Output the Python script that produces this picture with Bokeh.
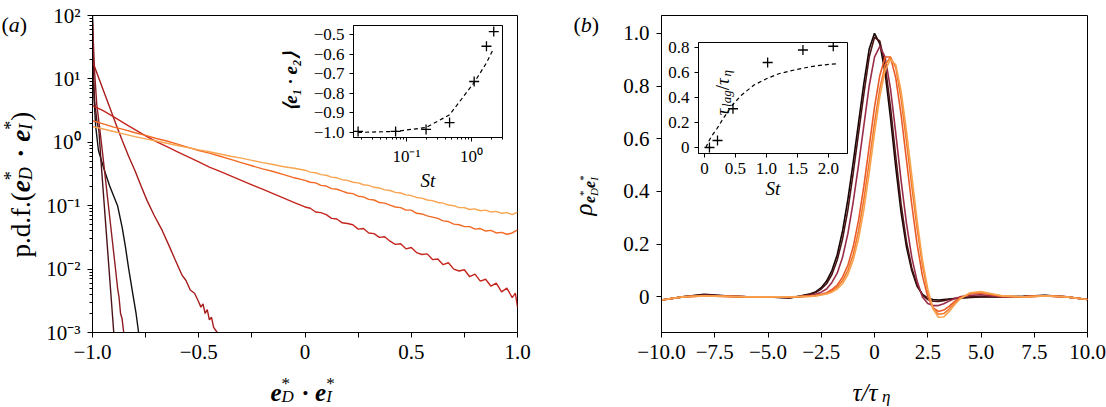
import math
from bokeh.plotting import figure
from bokeh.layouts import row, column
from bokeh.models import Range1d, FixedTicker, Label
from bokeh.embed import file_html
from bokeh.resources import INLINE

SERIF = "Liberation Serif"

# ---------------- Panel (a): p.d.f. of e_D*.e_I*  (x, log10 pdf) ----------------
a_x_black = [-1.0, -0.997, -0.993, -0.985, -0.972, -0.95, -0.92, -0.9, -0.882, -0.86, -0.845, -0.83, -0.81, -0.795, -0.783]
a_lp_black = [2.0, 1.2, 0.7, 0.25, -0.13, -0.38, -0.68, -0.85, -1.0, -1.35, -1.65, -1.99, -2.4, -2.7, -3.0]

a_x_maroon_dk = [-1.0, -0.998, -0.995, -0.99, -0.98, -0.97, -0.96, -0.95, -0.94, -0.93, -0.92, -0.91, -0.9]
a_lp_maroon_dk = [1.95, 1.4, 1.0, 0.65, 0.35, 0.19, -0.3, -0.75, -1.2, -1.65, -2.1, -2.55, -3.0]

a_x_maroon = [-1.0, -0.995, -0.99, -0.98, -0.965, -0.95, -0.935, -0.92, -0.905, -0.89, -0.882, -0.875, -0.868, -0.861, -0.853]
a_lp_maroon = [1.9, 1.5, 1.1, 0.6, 0.19, -0.25, -0.7, -1.15, -1.6, -2.05, -2.3, -2.45, -2.7, -2.78, -3.0]

a_x_red = [-1.0, -0.978, -0.95, -0.92, -0.89, -0.86, -0.83, -0.8, -0.77, -0.743, -0.71, -0.672, -0.64, -0.61,
           -0.578, -0.56, -0.54, -0.52, -0.5, -0.49, -0.48, -0.47, -0.46, -0.45, -0.44, -0.43, -0.413]
a_lp_red = [1.28, 1.08, 0.83, 0.56, 0.29, 0.03, -0.22, -0.45, -0.7, -0.92, -1.15, -1.39, -1.63, -1.86,
            -2.1, -2.18, -2.33, -2.38, -2.52, -2.6, -2.55, -2.7, -2.64, -2.8, -2.76, -2.92, -3.0]

a_x_long = [-1.0, -0.95, -0.9, -0.85, -0.8, -0.75, -0.7, -0.65, -0.6, -0.55, -0.5, -0.45, -0.4, -0.35, -0.3,
            -0.25, -0.2, -0.15, -0.1, -0.05,
            0.0, 0.025, 0.05, 0.075, 0.1, 0.125, 0.15, 0.175, 0.2, 0.225, 0.25, 0.275, 0.3, 0.325, 0.35, 0.375,
            0.4, 0.425, 0.45, 0.475, 0.5, 0.525, 0.55, 0.575, 0.6, 0.625, 0.65, 0.675, 0.7, 0.725, 0.75, 0.775,
            0.8, 0.825, 0.85, 0.875, 0.9, 0.925, 0.95, 0.975, 0.99, 1.0]
a_lp_long = [0.58, 0.5, 0.4, 0.3, 0.2, 0.1, 0.01, -0.07, -0.15, -0.23, -0.31, -0.39, -0.46, -0.53, -0.6,
             -0.67, -0.74, -0.81, -0.88, -0.95,
             -1.02, -1.04, -1.10, -1.11, -1.14, -1.20, -1.21, -1.27, -1.28, -1.30, -1.37, -1.36, -1.43, -1.44, -1.50, -1.49,
             -1.56, -1.61, -1.60, -1.68, -1.66, -1.74, -1.77, -1.76, -1.85, -1.84, -1.93, -1.90, -2.00, -2.03, -2.01, -2.12,
             -2.08, -2.19, -2.16, -2.27, -2.22, -2.36, -2.30, -2.45, -2.38, -2.60]

a_x_orange = [-1.0, -0.95, -0.9, -0.85, -0.8, -0.75, -0.7, -0.65, -0.6, -0.55, -0.5, -0.45, -0.4, -0.35, -0.3,
              -0.25, -0.2, -0.15, -0.1, -0.05,
              0.0, 0.025, 0.05, 0.075, 0.1, 0.125, 0.15, 0.175, 0.2, 0.225, 0.25, 0.275, 0.3, 0.325, 0.35, 0.375,
              0.4, 0.425, 0.45, 0.475, 0.5, 0.525, 0.55, 0.575, 0.6, 0.625, 0.65, 0.675, 0.7, 0.725, 0.75, 0.775,
              0.8, 0.825, 0.85, 0.875, 0.9, 0.925, 0.95, 0.975, 1.0]
a_lp_orange = [0.34, 0.29, 0.24, 0.2, 0.15, 0.11, 0.06, 0.02, -0.03, -0.08, -0.13, -0.17, -0.22, -0.27, -0.32,
               -0.37, -0.42, -0.46, -0.51, -0.56,
               -0.6, -0.63, -0.64, -0.68, -0.69, -0.73, -0.74, -0.77, -0.80, -0.81, -0.85, -0.86, -0.90, -0.91, -0.95, -0.96,
               -0.99, -1.02, -1.03, -1.07, -1.07, -1.12, -1.13, -1.16, -1.18, -1.20, -1.24, -1.25, -1.29, -1.30, -1.33, -1.33,
               -1.37, -1.36, -1.40, -1.39, -1.43, -1.42, -1.45, -1.43, -1.38]

a_x_light = [-1.0, -0.95, -0.9, -0.85, -0.8, -0.75, -0.7, -0.65, -0.6, -0.55, -0.5, -0.45, -0.4, -0.35, -0.3,
             -0.25, -0.2, -0.15, -0.1, -0.05,
             0.0, 0.025, 0.05, 0.075, 0.1, 0.125, 0.15, 0.175, 0.2, 0.225, 0.25, 0.275, 0.3, 0.325, 0.35, 0.375,
             0.4, 0.425, 0.45, 0.475, 0.5, 0.525, 0.55, 0.575, 0.6, 0.625, 0.65, 0.675, 0.7, 0.725, 0.75, 0.775,
             0.8, 0.825, 0.85, 0.875, 0.9, 0.925, 0.95, 0.975, 1.0]
a_lp_light = [0.25, 0.21, 0.17, 0.13, 0.09, 0.055, 0.02, -0.015, -0.05, -0.085, -0.12, -0.15, -0.185, -0.22, -0.25,
              -0.285, -0.32, -0.35, -0.385, -0.41,
              -0.44, -0.47, -0.48, -0.51, -0.52, -0.55, -0.56, -0.59, -0.60, -0.63, -0.64, -0.67, -0.68, -0.71, -0.72, -0.75,
              -0.76, -0.79, -0.80, -0.83, -0.84, -0.87, -0.88, -0.91, -0.92, -0.95, -0.96, -0.99, -1.0, -1.03, -1.03, -1.06,
              -1.05, -1.08, -1.07, -1.10, -1.09, -1.12, -1.11, -1.14, -1.10]

# inset (a): <e1.e2> vs St
ia_St = [0.018, 0.068, 0.2, 0.46, 1.1, 1.7, 2.2]
ia_mean = [-0.995, -0.995, -0.985, -0.95, -0.74, -0.56, -0.485]
ia_fit = [-1.0, -0.995, -0.975, -0.91, -0.745, -0.645, -0.57]

# ---------------- Panel (b): correlation vs tau/tau_eta ----------------
tau = [-10, -9, -8, -7, -6, -5, -4, -3.5, -3, -2.75, -2.5, -2.25, -2, -1.75, -1.5, -1.25, -1, -0.75, -0.5, -0.25,
       0, 0.25, 0.5, 0.75, 1, 1.25, 1.5, 1.75, 2, 2.25, 2.5, 2.75, 3, 3.25, 3.5, 3.75, 4, 4.5, 5, 5.5, 6, 7, 8, 9, 10]
rho_1 = [-0.012, 0.0, 0.01, 0.004, 0.0, 0.0, -0.004, 0.003, 0.012, 0.02, 0.035, 0.06, 0.1, 0.16, 0.25, 0.37, 0.51, 0.66, 0.81, 0.94,
         1.0, 0.96, 0.85, 0.68, 0.49, 0.32, 0.19, 0.1, 0.04, 0.01, -0.005, -0.01, -0.012, -0.01, -0.008, -0.006, -0.005, -0.002, 0.0, 0.0, 0.0, 0.002, 0.006, 0.0, -0.01]
rho_2 = [-0.012, 0.0, 0.008, 0.003, 0.0, 0.0, -0.003, 0.002, 0.01, 0.017, 0.03, 0.05, 0.085, 0.14, 0.22, 0.33, 0.47, 0.62, 0.77, 0.91,
         0.985, 0.97, 0.88, 0.72, 0.53, 0.35, 0.21, 0.11, 0.045, 0.008, -0.01, -0.016, -0.017, -0.014, -0.01, -0.006, -0.004, 0.0, 0.002, 0.001, 0.0, 0.002, 0.005, 0.0, -0.01]
rho_3 = [-0.012, 0.0, 0.006, 0.003, 0.0, 0.0, -0.002, 0.001, 0.006, 0.01, 0.018, 0.03, 0.055, 0.09, 0.15, 0.24, 0.36, 0.5, 0.65, 0.8,
         0.91, 0.95, 0.91, 0.79, 0.62, 0.44, 0.28, 0.15, 0.06, 0.0, -0.025, -0.033, -0.033, -0.026, -0.016, -0.007, 0.0, 0.006, 0.008, 0.004, 0.0, 0.001, 0.004, 0.0, -0.01]
rho_4 = [-0.012, 0.0, 0.004, 0.002, 0.0, 0.0, 0.0, 0.001, 0.004, 0.006, 0.01, 0.016, 0.028, 0.045, 0.075, 0.12, 0.19, 0.29, 0.42, 0.57,
         0.72, 0.84, 0.91, 0.91, 0.83, 0.69, 0.52, 0.35, 0.2, 0.08, 0.0, -0.042, -0.055, -0.05, -0.036, -0.018, -0.004, 0.012, 0.015, 0.008, 0.002, 0.0, 0.004, 0.0, -0.01]
rho_5 = [-0.012, 0.0, 0.004, 0.002, 0.0, 0.0, 0.0, 0.001, 0.003, 0.005, 0.008, 0.013, 0.022, 0.037, 0.062, 0.1, 0.16, 0.25, 0.37, 0.51,
         0.66, 0.79, 0.88, 0.91, 0.87, 0.75, 0.59, 0.42, 0.26, 0.12, 0.02, -0.045, -0.066, -0.063, -0.046, -0.025, -0.006, 0.014, 0.018, 0.01, 0.003, 0.0, 0.004, 0.0, -0.01]
rho_6 = [-0.012, 0.0, 0.004, 0.002, 0.0, 0.0, 0.0, 0.001, 0.002, 0.004, 0.007, 0.011, 0.018, 0.03, 0.05, 0.085, 0.14, 0.22, 0.33, 0.47,
         0.62, 0.76, 0.86, 0.9, 0.88, 0.78, 0.63, 0.46, 0.29, 0.14, 0.03, -0.045, -0.077, -0.076, -0.056, -0.031, -0.009, 0.016, 0.02, 0.012, 0.004, 0.0, 0.004, 0.0, -0.01]

# inset (b): tau_lag/tau_eta vs St
ib_St = [0.08, 0.21, 0.46, 1.02, 1.59, 2.08]
ib_lag = [0.0, 0.056, 0.31, 0.68, 0.78, 0.81]
ib_fit_St = [0.02, 0.1, 0.2, 0.3, 0.45, 0.6, 0.8, 1.0, 1.2, 1.45, 1.7, 1.9, 2.15]
ib_fit = [0.0, 0.08, 0.15, 0.23, 0.34, 0.42, 0.5, 0.55, 0.59, 0.62, 0.645, 0.66, 0.67]

# colours
A_COLORS = ["#141010", "#4a1218", "#8c1c22", "#a81b1b", "#c4261f", "#f26a24", "#f8a450"]
B_COLORS = ["#170606", "#4a1414", "#9a2c48", "#e85a2a", "#f2782c", "#f8a24e"]

# ---------------- helpers ----------------
W = {'p': 0.5, '.': 0.25, 'd': 0.5, 'f': 0.333, '(': 0.333, ')': 0.333, 'e': 0.444, '*': 0.5, 'D': 0.722,
     'I': 0.333, ' ': 0.25, '·': 0.25, 'τ': 0.45, '/': 0.278, 'η': 0.5, 'ρ': 0.5, 'l': 0.278, 'a': 0.5,
     'g': 0.5, 'b': 0.5}


def tw(s, size):
    return sum(W.get(c, 0.5) for c in s) * size


def compose(p, pieces, x0, y0, vertical=False):
    """Place a run of text pieces; x0, y0 are page pixels (overlay range is pixel-based, y down).
    A piece whose text is None only advances the pen."""
    adv = 0.0
    for text, size, style, shift, advance in pieces:
        if text is None:
            adv += advance
            continue
        kw = dict(text=text, text_font=SERIF, text_font_size=f"{size}px", text_font_style=style,
                  text_color="black", text_baseline="alphabetic", text_align="left")
        if vertical:
            lab = Label(x=x0 - shift, y=y0 - adv, angle=math.pi / 2, **kw)
        else:
            lab = Label(x=x0 + adv, y=y0 - shift, **kw)
        p.add_layout(lab)
        adv += tw(text, size) if advance is None else advance


def style_axes(p, size, tick_out=5, minor_out=3, standoff=6):
    for ax in (p.xaxis[0], p.yaxis[0]):
        ax.major_label_text_font = SERIF
        ax.major_label_text_font_size = size
        ax.major_label_text_color = "black"
        ax.axis_label_text_color = "black"
        ax.axis_line_color = "black"
        ax.axis_line_width = 1
        ax.major_tick_line_color = "black"
        ax.minor_tick_line_color = "black"
        ax.major_tick_in = 0
        ax.major_tick_out = tick_out
        ax.minor_tick_in = 0
        ax.minor_tick_out = minor_out
        ax.major_label_standoff = standoff
    p.xgrid.visible = False
    p.ygrid.visible = False
    p.outline_line_color = "black"
    p.outline_line_width = 1


# ---------------- Panel (a) ----------------
pa = figure(frame_width=425, frame_height=317, x_range=Range1d(-1.0, 1.0), y_range=Range1d(1e-3, 1e2),
            y_axis_type="log", output_backend="svg", toolbar_location=None,
            min_border_left=92, min_border_right=28, min_border_top=15, min_border_bottom=75,
            background_fill_color="white", border_fill_color="white")
style_axes(pa, "21px", standoff=7)
pa.xaxis.ticker = FixedTicker(ticks=[-1.0, -0.5, 0.0, 0.5, 1.0], minor_ticks=[-0.75, -0.25, 0.25, 0.75])
pa.xaxis.minor_tick_out = 5
pa.xaxis.major_label_overrides = {-1.0: "−1.0", -0.5: "−0.5", 0.0: "0", 0.5: "0.5", 1.0: "1.0"}
dec = [1e-3, 1e-2, 1e-1, 1e0, 1e1, 1e2]
pa.yaxis.ticker = FixedTicker(ticks=dec, minor_ticks=[k * d for d in dec[:-1] for k in range(2, 10)])
pa.yaxis.major_label_overrides = {1e-3: "10⁻³", 1e-2: "10⁻²", 1e-1: "10⁻¹", 1e0: "10⁰", 1e1: "10¹", 1e2: "10²"}

a_series = [(a_x_black, a_lp_black), (a_x_maroon_dk, a_lp_maroon_dk), (a_x_maroon, a_lp_maroon),
            (a_x_red, a_lp_red), (a_x_long, a_lp_long), (a_x_orange, a_lp_orange), (a_x_light, a_lp_light)]
for (xs, lps), col in zip(a_series, A_COLORS):
    pa.line(xs, [10 ** v for v in lps], line_color=col, line_width=1.4)

# inset (a)  (borders match panel (a) because Bokeh aligns frames within a column)
ia = figure(frame_width=149, frame_height=112, x_axis_type="log", x_range=Range1d(0.0153, 3.0),
            y_range=Range1d(-1.026, -0.454), output_backend="svg", toolbar_location=None,
            min_border_left=92, min_border_right=28, min_border_top=5, min_border_bottom=58,
            background_fill_color="white", border_fill_color=None)
style_axes(ia, "17px", tick_out=4, minor_out=2, standoff=5)
ia.xaxis.ticker = FixedTicker(ticks=[0.1, 1.0],
                              minor_ticks=[0.02, 0.03, 0.04, 0.05, 0.06, 0.07, 0.08, 0.09,
                                           0.2, 0.3, 0.4, 0.5, 0.6, 0.7, 0.8, 0.9, 2.0, 3.0])
ia.xaxis.major_label_overrides = {0.1: "10⁻¹", 1.0: "10⁰"}
ia.yaxis.ticker = FixedTicker(ticks=[-1.0, -0.9, -0.8, -0.7, -0.6, -0.5])
ia.yaxis.major_label_overrides = {-1.0: "−1.0", -0.9: "−0.9", -0.8: "−0.8", -0.7: "−0.7", -0.6: "−0.6", -0.5: "−0.5"}
ia.xaxis.axis_label = "St"
ia.xaxis.axis_label_text_font = SERIF
ia.xaxis.axis_label_text_font_style = "italic"
ia.xaxis.axis_label_text_font_size = "19px"
ia.xaxis.axis_label_standoff = 1
ia.yaxis.axis_label = "⟨e₁ · e₂⟩"
ia.yaxis.axis_label_text_font = SERIF
ia.yaxis.axis_label_text_font_style = "bold italic"
ia.yaxis.axis_label_text_font_size = "19px"
ia.yaxis.axis_label_standoff = 10
ia.line(ia_St, ia_fit, line_color="black", line_width=1.2, line_dash="4 3")
ia.scatter(ia_St, ia_mean, marker="cross", size=10, line_color="black", line_width=1.3)
ia.margin = (-387, 0, 212, 261)

# ---------------- Panel (b) ----------------
pb = figure(frame_width=426, frame_height=317, x_range=Range1d(-10, 10), y_range=Range1d(-0.135, 1.0675),
            output_backend="svg", toolbar_location=None,
            min_border_left=116, min_border_right=19, min_border_top=15, min_border_bottom=75,
            background_fill_color="white", border_fill_color="white")
style_axes(pb, "21px", standoff=7)
pb.xaxis.ticker = FixedTicker(ticks=[-10, -7.5, -5, -2.5, 0, 2.5, 5, 7.5, 10], minor_ticks=[])
pb.xaxis.major_label_overrides = {-10: "−10.0", -7.5: "−7.5", -5: "−5.0", -2.5: "−2.5", 0: "0",
                                  2.5: "2.5", 5: "5.0", 7.5: "7.5", 10: "10.0"}
pb.yaxis.ticker = FixedTicker(ticks=[0, 0.2, 0.4, 0.6, 0.8, 1.0], minor_ticks=[])
pb.yaxis.major_label_overrides = {0: "0", 0.2: "0.2", 0.4: "0.4", 0.6: "0.6", 0.8: "0.8", 1.0: "1.0"}
for rho, col in zip([rho_1, rho_2, rho_3, rho_4, rho_5, rho_6], B_COLORS):
    pb.line(tau, rho, line_color=col, line_width=1.6)

# inset (b)
ib = figure(frame_width=149, frame_height=111, x_range=Range1d(-0.097, 2.31), y_range=Range1d(-0.048, 0.84),
            output_backend="svg", toolbar_location=None,
            min_border_left=116, min_border_right=19, min_border_top=5, min_border_bottom=58,
            background_fill_color="white", border_fill_color=None)
style_axes(ib, "17px", tick_out=4, minor_out=2, standoff=5)
ib.xaxis.ticker = FixedTicker(ticks=[0, 0.5, 1.0, 1.5, 2.0], minor_ticks=[])
ib.xaxis.major_label_overrides = {0: "0", 0.5: "0.5", 1.0: "1.0", 1.5: "1.5", 2.0: "2.0"}
ib.yaxis.ticker = FixedTicker(ticks=[0, 0.2, 0.4, 0.6, 0.8], minor_ticks=[])
ib.yaxis.major_label_overrides = {0: "0", 0.2: "0.2", 0.4: "0.4", 0.6: "0.6", 0.8: "0.8"}
ib.xaxis.axis_label = "St"
ib.xaxis.axis_label_text_font = SERIF
ib.xaxis.axis_label_text_font_style = "italic"
ib.xaxis.axis_label_text_font_size = "19px"
ib.xaxis.axis_label_standoff = 1
ib.line(ib_fit_St, ib_fit, line_color="black", line_width=1.2, line_dash="4 3")
ib.scatter(ib_St, ib_lag, marker="cross", size=10, line_color="black", line_width=1.3)
ib.margin = (-370, 0, 196, 37)

# ---------------- overlay for free-standing texts (pixel-based ranges) ----------------
ov = figure(width=1106, height=407, x_range=Range1d(0, 1106), y_range=Range1d(407, 0), title=None,
            min_border=0, x_axis_location=None, y_axis_location=None, toolbar_location=None,
            output_backend="svg", background_fill_color=None, border_fill_color=None)
ov.outline_line_color = None
ov.grid.visible = False

F, S = 25, 17
FY, SY = 27, 18
GAP = 0.3 * F
compose(ov, [("(", 22, "normal", 0, None), ("a", 22, "italic", 0, None), (")", 22, "normal", 0, None)], 1, 24)
compose(ov, [("(", 22, "normal", 0, None), ("b", 22, "italic", 0, None), (")", 22, "normal", 0, None)], 573, 24)
compose(ov, [("p.d.f.(", FY, "normal", 0, None), ("e", FY, "bold italic", 0, None),
             ("*", SY, "normal", 10, 0), ("D", SY, "italic", -5, None), (None, FY, "", 0, 0.35 * FY),
             ("·", FY, "bold", 0, None), (None, FY, "", 0, 0.35 * FY),
             ("e", FY, "bold italic", 0, None), ("*", SY, "normal", 10, 0), ("I", SY, "italic", -5, tw("*", SY)),
             (")", FY, "normal", 0, None)], 20, 257, vertical=True)
compose(ov, [("e", F, "bold italic", 0, None), ("*", S, "normal", 9, 0), ("D", S, "italic", -4, None),
             (None, F, "", 0, GAP), ("·", F, "bold", 0, None), (None, F, "", 0, GAP),
             ("e", F, "bold italic", 0, None), ("*", S, "normal", 9, 0),
             ("I", S, "italic", -4, tw("*", S))], 270, 392)
compose(ov, [("τ/τ", F, "italic", 0, None), ("η", S, "italic", -4, None)], 852, 392)
compose(ov, [("ρ", F, "italic", 0, None), ("e", 16, "bold italic", -6, None), ("*", 11, "normal", 1, 0),
             ("D", 11, "italic", -10, None), ("e", 16, "bold italic", -6, None), ("*", 11, "normal", 1, 0),
             ("I", 11, "italic", -10, tw("*", 11))], 583, 215, vertical=True)
compose(ov, [("τ", 19, "italic", 0, None), ("lag", 13, "italic", -4, None), ("/", 19, "normal", 0, None),
             ("τ", 19, "italic", 0, None), ("η", 13, "italic", -4, None)], 722, 115, vertical=True)
ov.margin = (-407, 0, 0, 0)

layout = column(row(column(pa, ia), column(pb, ib)), ov)
open("out.html", "w").write(file_html(layout, INLINE))
